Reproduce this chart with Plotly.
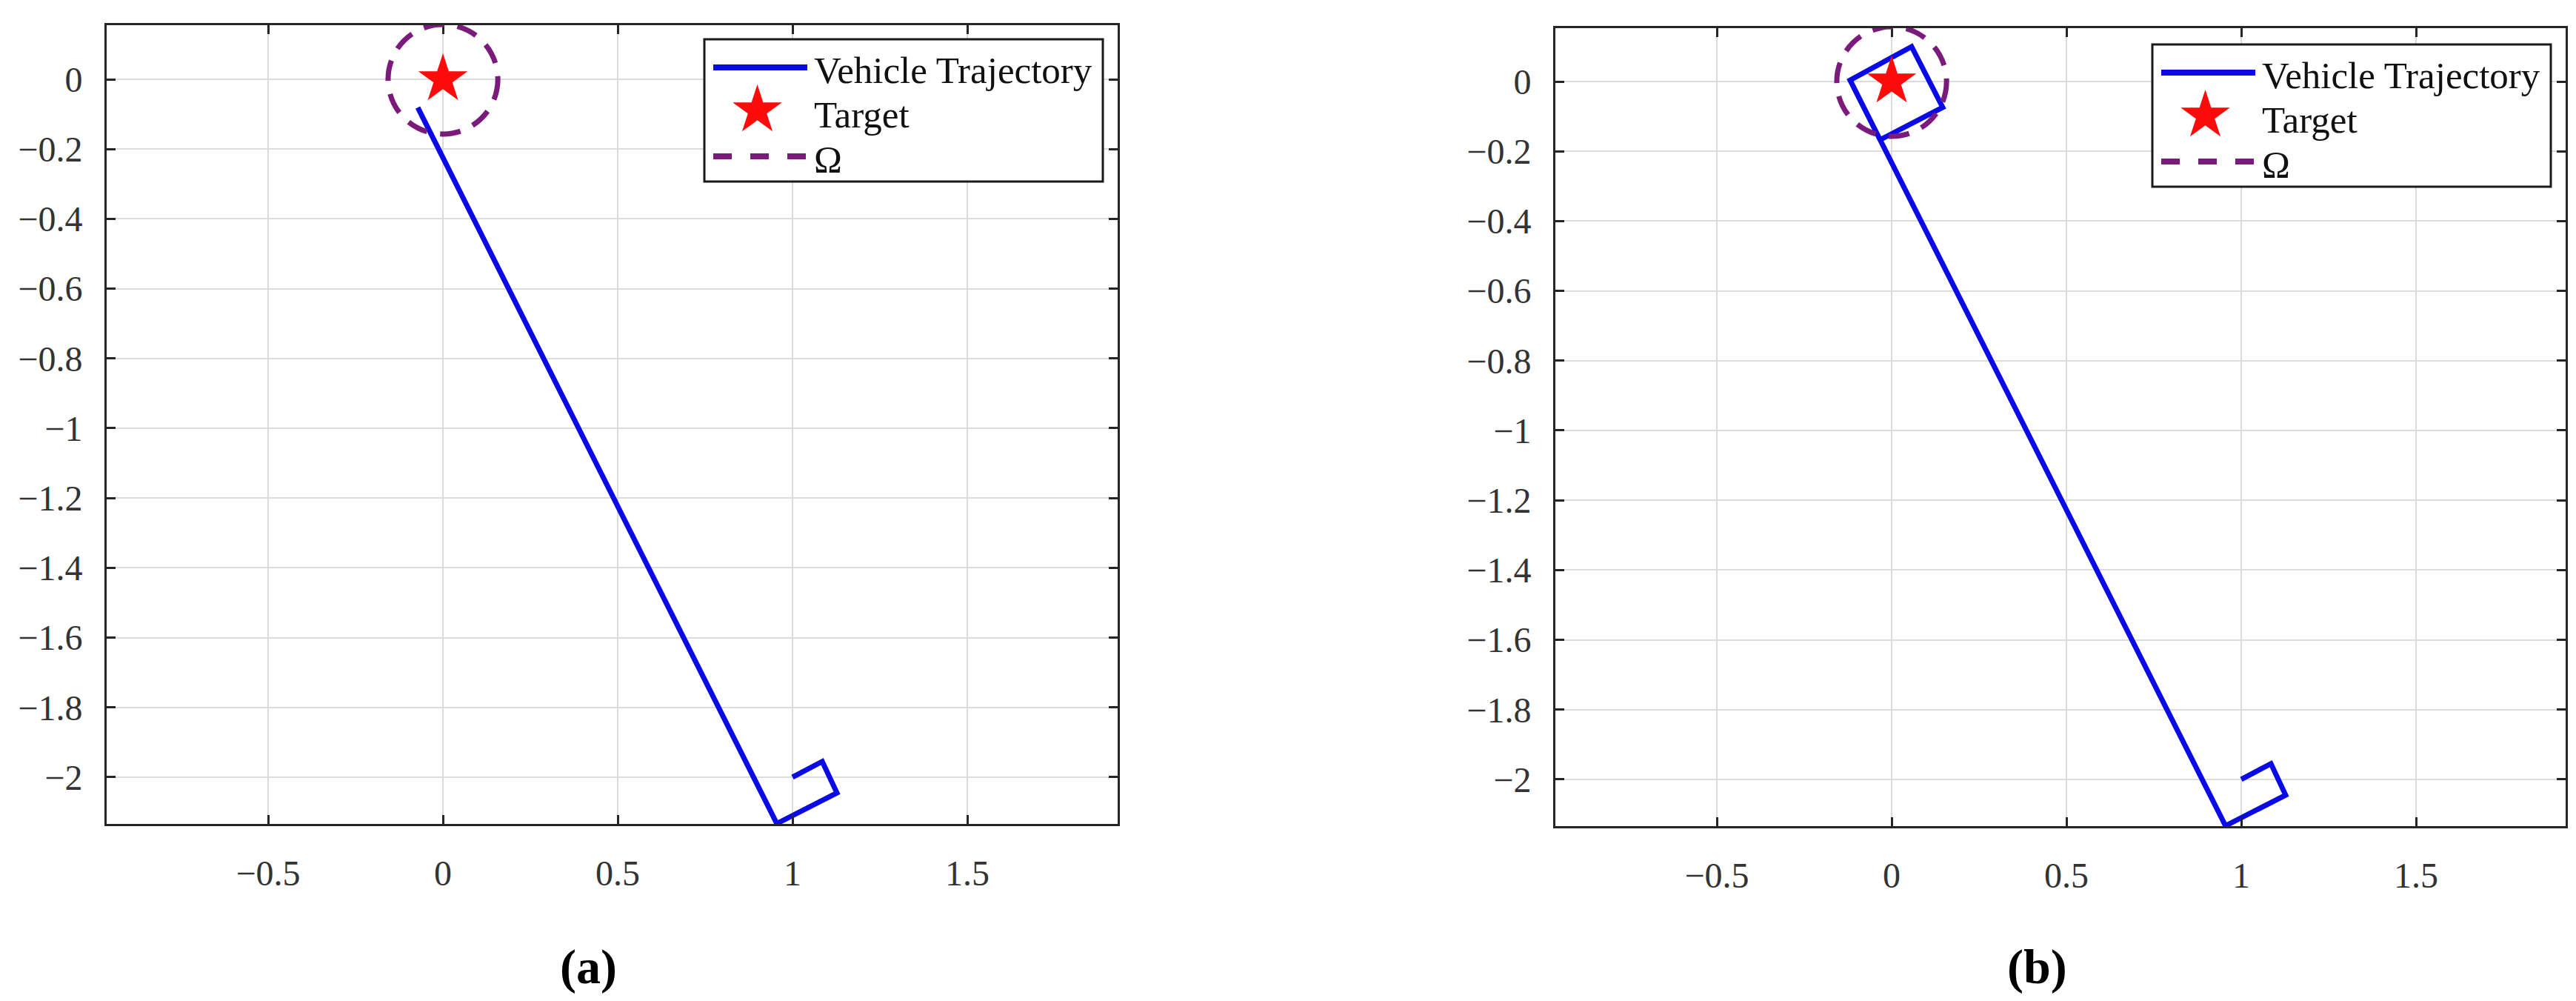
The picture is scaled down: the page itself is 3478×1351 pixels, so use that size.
import plotly.graph_objects as go

# ---------------- data ----------------
traj_a_x = [1.0, 1.085, 1.127, 0.955, -0.072]
traj_a_y = [-2.0, -1.955, -2.045, -2.133, -0.081]

traj_b_x = [1.0, 1.085, 1.127, 0.955, -0.119, 0.057, 0.146, -0.035]
traj_b_y = [-2.0, -1.955, -2.045, -2.133, 0.004, 0.100, -0.074, -0.168]

target_x = [0.0]
target_y = [0.0]

omega_center = (0.0, 0.0)
omega_radius = 0.157

x_tickvals = [-0.5, 0, 0.5, 1, 1.5]
x_ticktext = ["\u22120.5", "0", "0.5", "1", "1.5"]
y_tickvals = [0, -0.2, -0.4, -0.6, -0.8, -1, -1.2, -1.4, -1.6, -1.8, -2]
y_ticktext = ["0", "\u22120.2", "\u22120.4", "\u22120.6", "\u22120.8", "\u22121",
              "\u22121.2", "\u22121.4", "\u22121.6", "\u22121.8", "\u22122"]

legend_names = ["Vehicle Trajectory", "Target", "\u03a9"]
panel_labels = ["(a)", "(b)"]

# ---------------- styling ----------------
W, H = 3478, 1351
FONT = "Liberation Serif"
BLUE = "#0a0ae6"
PURPLE = "#7a1a7a"
RED = "#ff0a0a"
LW = 7

fig = go.Figure()

panels = [
    dict(tx=traj_a_x, ty=traj_a_y, xa="x", ya="y"),
    dict(tx=traj_b_x, ty=traj_b_y, xa="x2", ya="y2"),
]

for p in panels:
    fig.add_trace(go.Scatter(
        x=p["tx"], y=p["ty"], mode="lines", name=legend_names[0],
        line=dict(color=BLUE, width=LW), xaxis=p["xa"], yaxis=p["ya"],
        showlegend=False))
    fig.add_trace(go.Scatter(
        x=target_x, y=target_y, mode="markers", name=legend_names[1],
        marker=dict(symbol="star", size=50, color=RED, line=dict(width=0)),
        xaxis=p["xa"], yaxis=p["ya"], showlegend=False))
    fig.add_shape(
        type="circle", xref=p["xa"], yref=p["ya"],
        x0=omega_center[0] - omega_radius, x1=omega_center[0] + omega_radius,
        y0=omega_center[1] - omega_radius, y1=omega_center[1] + omega_radius,
        line=dict(color=PURPLE, width=LW, dash="28px,18px"))

axis_common = dict(
    showgrid=True, gridcolor="#dcdcdc", gridwidth=2,
    zeroline=False, showline=True, linecolor="#262626", linewidth=3,
    mirror="ticks", ticks="inside", ticklen=12, tickwidth=3, tickcolor="#262626",
    tickfont=dict(family=FONT, size=48, color="#333333"),
)

# panel geometry in px
a_l, a_r, a_t, a_b = 136, 1501, 26, 1104
b_l, b_r, b_t, b_b = 2092, 3456, 30, 1107

fig.update_layout(
    width=W, height=H,
    margin=dict(l=0, r=0, t=0, b=0),
    paper_bgcolor="white", plot_bgcolor="rgba(0,0,0,0)",
    font=dict(family=FONT),
    showlegend=False,
    xaxis=dict(domain=[a_l / W, a_r / W], range=[-0.962, 1.930],
               tickvals=x_tickvals, ticktext=x_ticktext, ticklabelstandoff=22,
               anchor="y", **axis_common),
    yaxis=dict(domain=[1 - a_b / H, 1 - a_t / H], range=[-2.134, 0.155],
               tickvals=y_tickvals, ticktext=y_ticktext, ticklabelstandoff=20,
               anchor="x", **axis_common),
    xaxis2=dict(domain=[b_l / W, b_r / W], range=[-0.962, 1.928],
                tickvals=x_tickvals, ticktext=x_ticktext, ticklabelstandoff=22,
                anchor="y2", **axis_common),
    yaxis2=dict(domain=[1 - b_b / H, 1 - b_t / H], range=[-2.134, 0.153],
                tickvals=y_tickvals, ticktext=y_ticktext, ticklabelstandoff=20,
                anchor="x2", **axis_common),
    # transparent overlay axis in pixel units, used only for the legend keys
    xaxis3=dict(domain=[0, 1], range=[0, W], visible=False, anchor="y3",
                fixedrange=True),
    yaxis3=dict(domain=[0, 1], range=[H, 0], visible=False, anchor="x3",
                fixedrange=True),
)

# ---------- hand-drawn legends (large star key like the original) ----------
legend_boxes = [(943, 45), (2898, 52)]   # top-left corner of each legend
BOX_W, BOX_H = 538, 192
for (lx, ly) in legend_boxes:
    fig.add_shape(type="rect", xref="x3", yref="y3",
                  x0=lx, x1=lx + BOX_W, y0=ly, y1=ly + BOX_H,
                  line=dict(color="#1a1a1a", width=3), fillcolor="white",
                  layer="between")
    rows = [ly + 38, ly + 98, ly + 158]
    k0, k1 = lx + 12, lx + 139
    fig.add_shape(type="line", xref="x3", yref="y3",
                  x0=k0, x1=k1, y0=rows[0], y1=rows[0],
                  line=dict(color=BLUE, width=8), layer="above")
    fig.add_shape(type="line", xref="x3", yref="y3",
                  x0=k0, x1=k1, y0=rows[2], y1=rows[2],
                  line=dict(color=PURPLE, width=8, dash="25px,25px"),
                  layer="above")
    fig.add_trace(go.Scatter(
        x=[(k0 + k1) / 2 - 4], y=[rows[1] - 2], mode="markers",
        marker=dict(symbol="star", size=50, color=RED, line=dict(width=0)),
        xaxis="x3", yaxis="y3", showlegend=False, hoverinfo="skip"))
    for name, ry in zip(legend_names, rows):
        fig.add_annotation(
            text=name, xref="x3", yref="y3",
            x=lx + 146, y=ry + 4, xanchor="left", yanchor="middle",
            showarrow=False, font=dict(family=FONT, size=51, color="#111111"))

label_pos = [(786, 1297), (2742, 1297)]
for txt, (px, py) in zip(panel_labels, label_pos):
    fig.add_annotation(
        text="<b>" + txt + "</b>", xref="paper", yref="paper",
        x=px / W, y=1 - py / H, xanchor="center", yanchor="middle",
        showarrow=False, font=dict(family=FONT, size=66, color="black"))

fig.write_html("out.html")
